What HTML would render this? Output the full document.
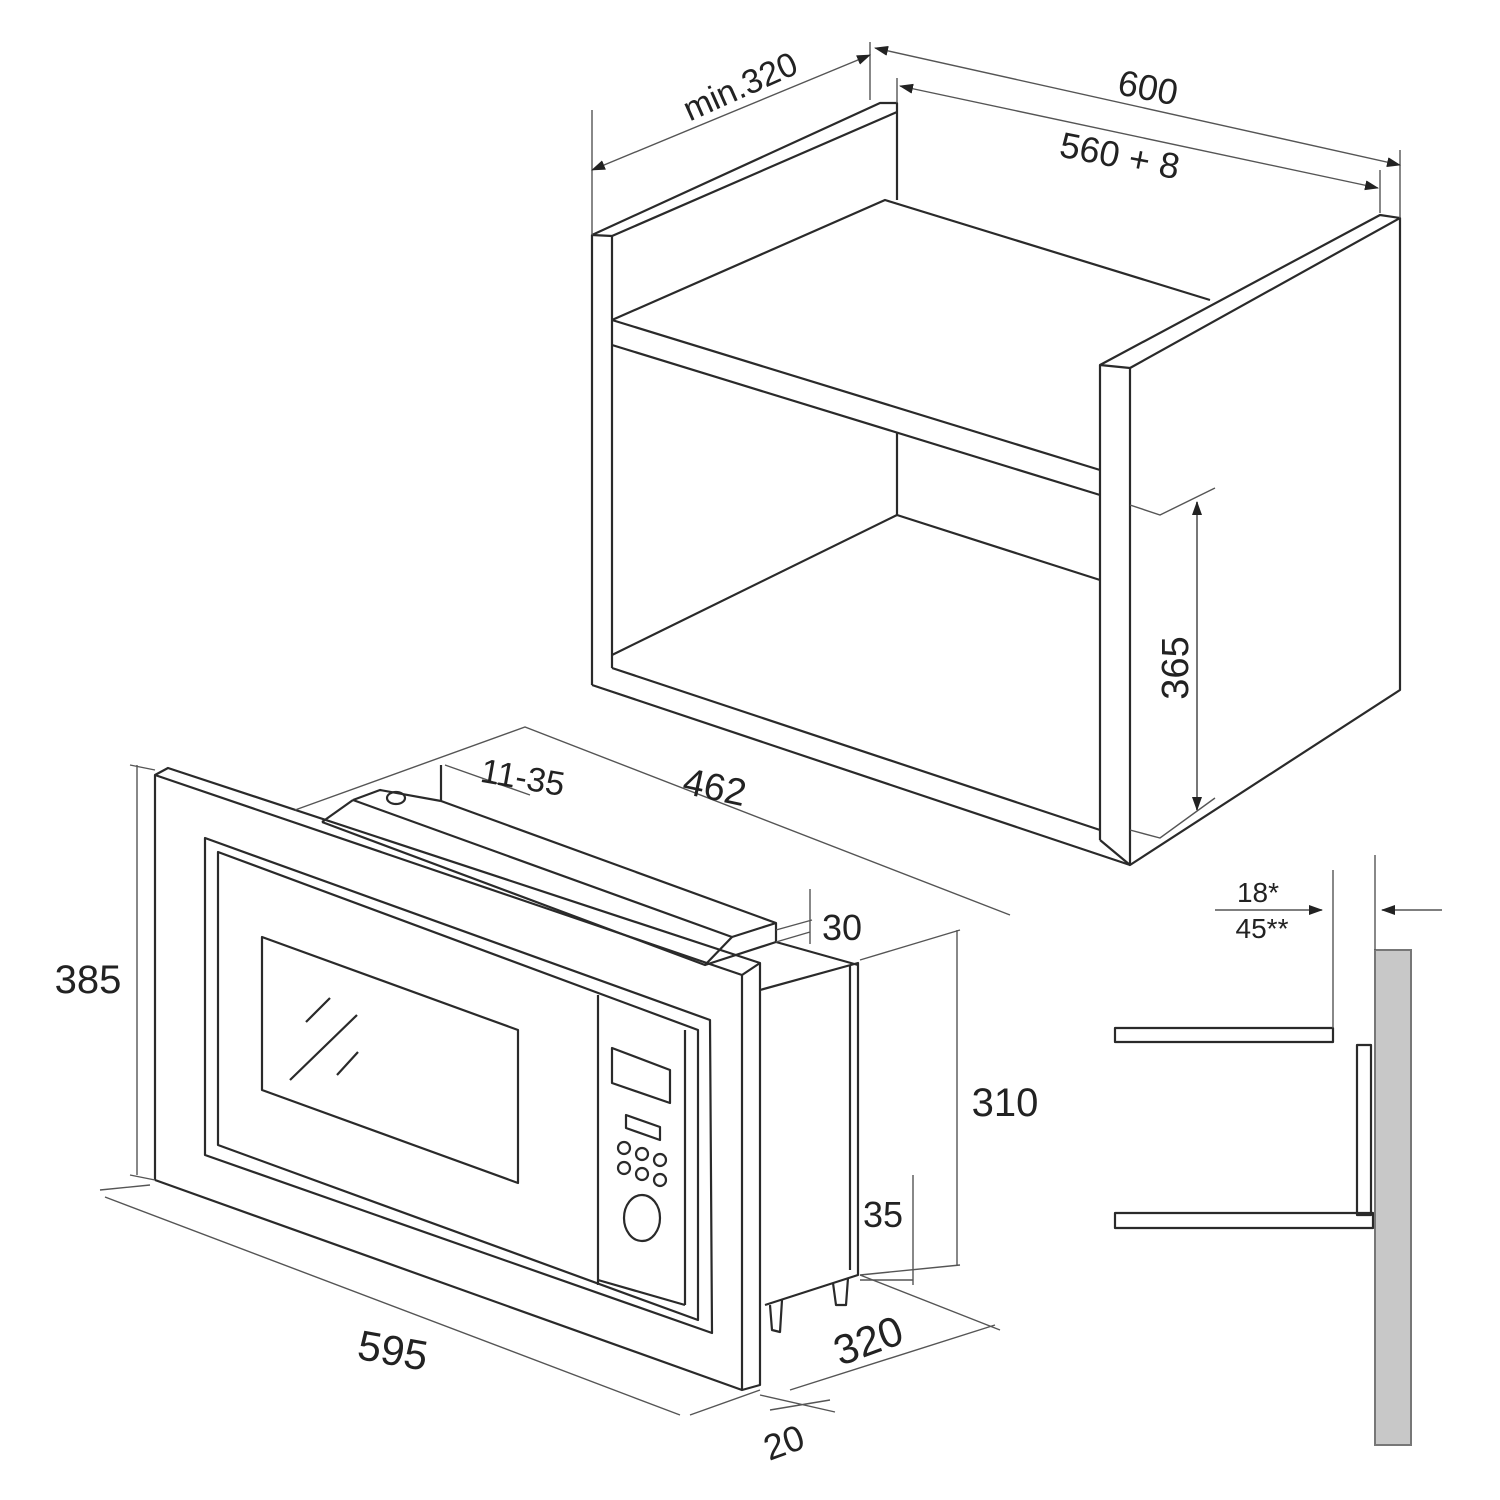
<!DOCTYPE html>
<html><head><meta charset="utf-8"><style>
html,body{margin:0;padding:0;background:#fff;width:1500px;height:1500px;overflow:hidden}
svg{display:block}
text{font-family:"Liberation Sans",sans-serif;fill:#222}
</style></head><body>
<svg width="1500" height="1500" viewBox="0 0 1500 1500" xmlns="http://www.w3.org/2000/svg">
<defs>
<marker id="a" markerWidth="14" markerHeight="10" refX="13" refY="5" orient="auto" markerUnits="userSpaceOnUse"><path d="M0,0 L14,5 L0,10 z" fill="#222"/></marker>
<marker id="b" markerWidth="14" markerHeight="10" refX="1" refY="5" orient="auto" markerUnits="userSpaceOnUse"><path d="M14,0 L0,5 L14,10 z" fill="#222"/></marker>
</defs>
<g fill="none" stroke="#2a2a2a" stroke-width="2.2" stroke-linejoin="round">
<!-- Cabinet -->
<path d="M592,685 L592,235 L880,103 L897,103 L897,200"/>
<path d="M592,235 L612,236 L897,112"/>
<path d="M612,236 L612,668"/>
<path d="M612,320 L885,200 L1210,300"/>
<path d="M612,320 L1100,470"/>
<path d="M612,345 L1100,495"/>
<path d="M1100,840 L1100,365 L1380,215 L1400,218 L1400,690 L1130,865 L1100,840"/>
<path d="M1100,365 L1130,368 L1400,218"/>
<path d="M1130,368 L1130,865"/>
<path d="M897,432 L897,515 L1100,580"/>
<path d="M612,655 L897,515"/>
<path d="M612,668 L1100,830"/>
<path d="M592,685 L1130,865"/>
<!-- Microwave front frame -->
<path d="M155,1180 L155,775 L168,768 L760,963 L760,1385 L742,1390 L155,1180"/>
<path d="M155,775 L742,975 L760,963"/>
<path d="M742,975 L742,1390"/>
<path d="M205,838 L710,1020 L712,1333 L205,1155 z"/>
<path d="M218,852 L698,1030 L698,1320 L218,1145 z"/>
<path d="M262,937 L518,1030 L518,1183 L262,1090 z"/>
<path d="M306,1022 L330,998 M290,1080 L357,1015 M337,1075 L358,1052"/>
<path d="M598,995 L598,1285 M598,1280 L685,1305 M685,1030 L685,1305"/>
<path d="M612,1048 L670,1070 L670,1103 L612,1083 z"/>
<path d="M626,1115 L660,1127 L660,1140 L626,1128 z"/>
<circle cx="624" cy="1148" r="6"/><circle cx="642" cy="1154" r="6"/><circle cx="660" cy="1160" r="6"/>
<circle cx="624" cy="1168" r="6"/><circle cx="642" cy="1174" r="6"/><circle cx="660" cy="1180" r="6"/>
<ellipse cx="642" cy="1218" rx="18" ry="23"/>
<!-- body top trim -->
<path d="M441,801 L776,923 L776,942"/>
<path d="M353,800 L732,937 L776,923"/>
<path d="M322,822 L353,800"/>
<path d="M322,822 L705,965 L732,937"/>
<path d="M705,965 L776,942 L858,965"/>
<path d="M353,800 L380,790 L441,801"/>
<ellipse cx="396" cy="798" rx="9" ry="6"/>
<path d="M441,765 L441,801"/>
<!-- side body -->
<path d="M760,990 L858,963 L858,1275 L765,1305"/>
<path d="M850,965 L850,1270"/>
<path d="M770,1305 L772,1330 L780,1332 L782,1300 M833,1283 L836,1305 L846,1305 L848,1278"/>
<!-- Side profile -->
<rect x="1115" y="1028" width="218" height="14"/>
<rect x="1115" y="1213" width="258" height="15"/>
<rect x="1357" y="1045" width="14" height="170"/>
</g>
<rect x="1375" y="950" width="36" height="495" fill="#c8c8c8" stroke="#777" stroke-width="2"/>
<!-- dimension lines -->
<g fill="none" stroke="#555" stroke-width="1.4">
<path d="M592,110 L592,235 M870,42 L870,100 M897,78 L897,103 M1380,170 L1380,213 M1400,150 L1400,218"/>
<path d="M592,170 L870,55" marker-start="url(#b)" marker-end="url(#a)"/>
<path d="M875,48 L1400,165" marker-start="url(#b)" marker-end="url(#a)"/>
<path d="M900,86 L1378,188" marker-start="url(#b)" marker-end="url(#a)"/>
<path d="M1130,505 L1160,515 L1215,488 M1130,830 L1160,838 L1215,798"/>
<path d="M1197,502 L1197,810" marker-start="url(#b)" marker-end="url(#a)" stroke="#777" stroke-width="2"/>
<path d="M295,810 L525,727 L1010,915"/>
<path d="M445,765 L530,795"/>
<path d="M137,765 L137,1175 M130,765 L155,770 M130,1175 L155,1180"/>
<path d="M105,1197 L680,1415 M100,1190 L150,1185"/>
<path d="M760,1395 L835,1412 M690,1415 L760,1390 M770,1410 L830,1400"/>
<path d="M790,1390 L995,1325 M860,1275 L1000,1330"/>
<path d="M860,960 L960,930 M860,1275 L960,1265 M957,930 L957,1265"/>
<path d="M913,1175 L913,1285 M860,1280 L913,1280"/>
<path d="M810,889 L810,944 M776,930 L812,920 M776,942 L810,932"/>
<path d="M1333,870 L1333,1028 M1375,855 L1375,950"/>
<path d="M1215,910 L1322,910" marker-end="url(#a)"/>
<path d="M1442,910 L1382,910" marker-end="url(#a)"/>
</g>
<!-- labels -->
<text x="740" y="98" font-size="34" text-anchor="middle" transform="rotate(-24 740 86)">min.320</text>
<text x="1148" y="100" font-size="36" text-anchor="middle" transform="rotate(11 1148 88)">600</text>
<text x="1120" y="168" font-size="36" text-anchor="middle" transform="rotate(11 1120 155)">560 + 8</text>
<text x="1175" y="681" font-size="38" text-anchor="middle" transform="rotate(-90 1175 668)">365</text>
<text x="523" y="789" font-size="34" text-anchor="middle" transform="rotate(10 523 776)">11-35</text>
<text x="715" y="800" font-size="38" text-anchor="middle" transform="rotate(12 715 786)">462</text>
<text x="842" y="940" font-size="36" text-anchor="middle">30</text>
<text x="88" y="993" font-size="40" text-anchor="middle">385</text>
<text x="1005" y="1116" font-size="40" text-anchor="middle">310</text>
<text x="883" y="1227" font-size="36" text-anchor="middle">35</text>
<text x="393" y="1365" font-size="42" text-anchor="middle" transform="rotate(10 393 1350)">595</text>
<text x="868" y="1355" font-size="42" text-anchor="middle" transform="rotate(-20 868 1340)">320</text>
<text x="783" y="1455" font-size="36" text-anchor="middle" transform="rotate(-20 783 1440)">20</text>
<text x="1258" y="902" font-size="28" text-anchor="middle" fill="#444">18*</text>
<text x="1262" y="938" font-size="28" text-anchor="middle" fill="#444">45**</text>
</svg>
</body></html>
